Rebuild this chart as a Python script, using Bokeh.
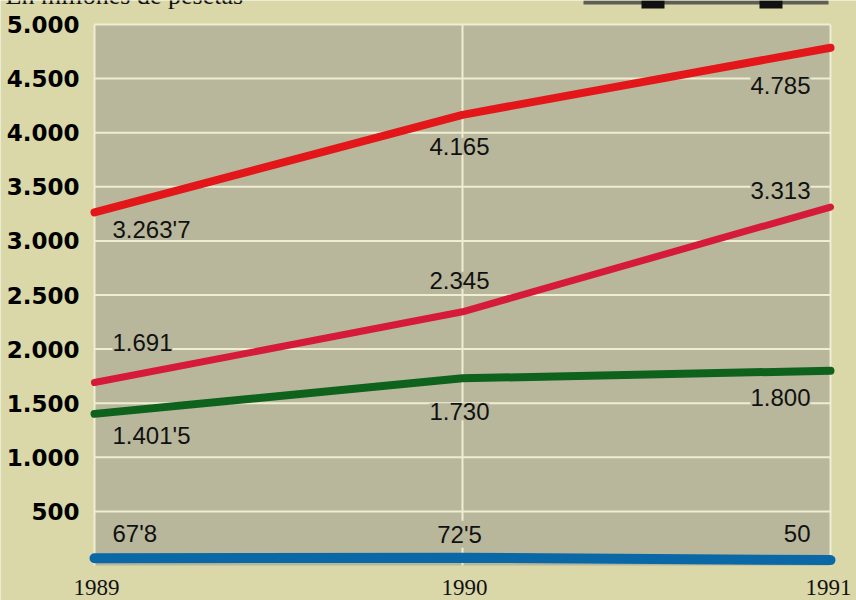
from bokeh.plotting import figure
from bokeh.models import (Range1d, ColumnDataSource, LabelSet, Label, BoxAnnotation)
from bokeh.core.properties import value
from bokeh.embed import file_html
from bokeh.resources import INLINE

# ---------------- data ----------------
years = [1989, 1990, 1991]
year_labels = ["1989", "1990", "1991"]

serie_a = [3263.7, 4165, 4785]          # red (top)
serie_a_txt = ["3.263'7", "4.165", "4.785"]
serie_b = [1691, 2345, 3313]            # crimson
serie_b_txt = ["1.691", "2.345", "3.313"]
serie_c = [1401.5, 1730, 1800]          # green
serie_c_txt = ["1.401'5", "1.730", "1.800"]
serie_d = [67.8, 72.5, 50]              # blue
serie_d_txt = ["67'8", "72'5", "50"]

y_ticks = [500, 1000, 1500, 2000, 2500, 3000, 3500, 4000, 4500, 5000]
y_tick_labels = ["500", "1.000", "1.500", "2.000", "2.500", "3.000",
                 "3.500", "4.000", "4.500", "5.000"]
y_min, y_max = 0, 5000

# ---------------- layout (pixels) ----------------
W, H = 856, 600
PL, PR, PT, PB = 94, 830, 24, 565      # plot-area edges on the canvas

OUTER = "#dad7a8"
PLOT_BG = "#b8b79b"
GRID = "#efedd2"

# ranges chosen so that the plot area lands on PL..PR / PT..PB while the
# frame fills the whole canvas (so texts outside the plot area are not clipped)
sx = (PR - PL) / (years[-1] - years[0])
sy = (PB - PT) / (y_max - y_min)
x_range = Range1d(years[0] - PL / sx, years[-1] + (W - PR) / sx)
y_range = Range1d(y_min - (H - PB) / sy, y_max + PT / sy)

p = figure(width=W, height=H, output_backend="svg", toolbar_location=None,
           x_range=x_range, y_range=y_range,
           x_axis_location=None, y_axis_location=None,
           min_border=0)
p.background_fill_color = OUTER
p.border_fill_color = OUTER
p.outline_line_color = None
p.grid.visible = False

# plot area
p.add_layout(BoxAnnotation(left=years[0], right=years[-1], bottom=y_min, top=y_max,
                           fill_color=PLOT_BG, fill_alpha=1, line_color=None,
                           level="underlay"))

# grid lines
p.segment(x0=[years[0]] * len(y_ticks), x1=[years[-1]] * len(y_ticks),
          y0=y_ticks, y1=y_ticks, line_color=GRID, line_width=2)
p.segment(x0=years, x1=years, y0=[y_min] * 3, y1=[y_max] * 3,
          line_color=GRID, line_width=2)

# lines
p.line(years, serie_d, line_color="#0a68a6", line_width=10, line_cap="round")
p.line(years, serie_c, line_color="#0e621c", line_width=8, line_cap="round")
p.line(years, serie_b, line_color="#d61a3a", line_width=7, line_cap="round")
p.line(years, serie_a, line_color="#e3161a", line_width=8, line_cap="round")

# y tick labels
ysrc = ColumnDataSource(dict(x=[years[0]] * len(y_ticks), y=y_ticks, t=y_tick_labels))
p.add_layout(LabelSet(x="x", y="y", text="t", source=ysrc, x_offset=-15,
                      text_align="right", text_baseline="middle",
                      text_font=value("DejaVu Sans"), text_font_style="bold",
                      text_font_size="23px", text_color="#000000"))

# year labels
year_x_off = [2, 2, -2]
for i in range(3):
    xsrc = ColumnDataSource(dict(x=[years[i]], y=[y_min], t=[year_labels[i]]))
    p.add_layout(LabelSet(x="x", y="y", text="t", source=xsrc, y_offset=-29,
                          x_offset=year_x_off[i], text_align="center",
                          text_baseline="alphabetic",
                          text_font=value("Liberation Serif"), text_font_size="23px",
                          text_color="#111111"))

# value labels
x_off = [18, -3, -20]
aligns = ["left", "center", "right"]
series = [
    (serie_a, serie_a_txt, [-26, -40, -46], [False, True, True]),
    (serie_b, serie_b_txt, [32, 23, 8.5], [True, True, True]),
    (serie_c, serie_c_txt, [-30, -42, -35], [True, True, True]),
    (serie_d, serie_d_txt, [15.7, 15, 17.6], [True, True, True]),
]
for vals, txts, yoffs, knock in series:
    for i in range(3):
        src = ColumnDataSource(dict(x=[years[i]], y=[vals[i]], t=[txts[i]]))
        p.add_layout(LabelSet(x="x", y="y", text="t", source=src,
                              x_offset=x_off[i], y_offset=yoffs[i],
                              text_align=aligns[i], text_baseline="alphabetic",
                              text_font=value("Liberation Sans"),
                              text_font_size="24px", text_color="#111111",
                              background_fill_color=PLOT_BG if knock[i] else None))

# partially visible caption (cut off at the top of the page)
p.add_layout(Label(x=5, y=H + 5, x_units="screen", y_units="screen",
                   text="En millones de pesetas", text_baseline="alphabetic",
                   text_font="Liberation Serif", text_font_size="26px",
                   text_color="#111111"))

# remnant of the legend strip at the top right
p.add_layout(BoxAnnotation(left=583, right=828, top=H, bottom=H - 4,
                           left_units="screen", right_units="screen",
                           top_units="screen", bottom_units="screen",
                           fill_color="#5e5e55", fill_alpha=1, line_color=None))
for lft in (641, 759):
    p.add_layout(BoxAnnotation(left=lft, right=lft + 23, top=H, bottom=H - 8,
                               left_units="screen", right_units="screen",
                               top_units="screen", bottom_units="screen",
                               fill_color="#111111", fill_alpha=1, line_color=None))

open("out.html", "w").write(file_html(p, INLINE))
